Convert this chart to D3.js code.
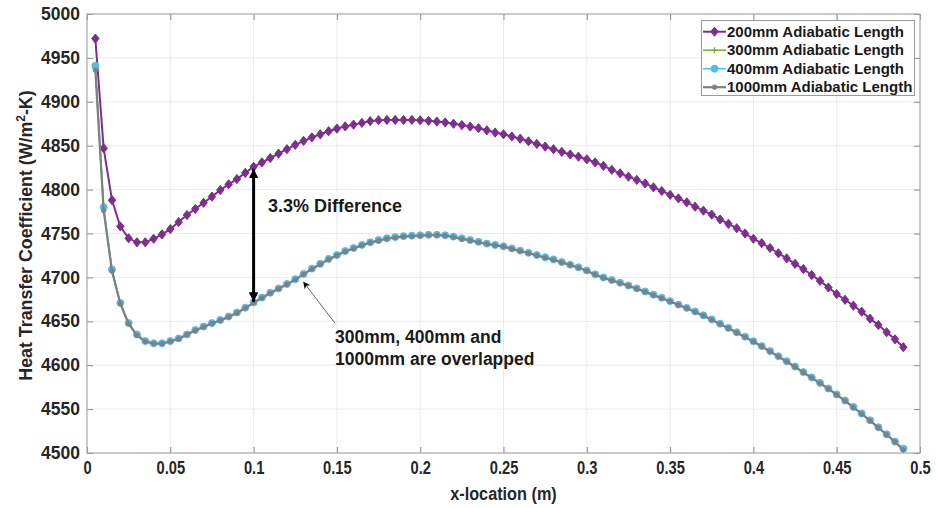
<!DOCTYPE html>
<html><head><meta charset="utf-8">
<script src="https://cdn.jsdelivr.net/npm/d3@7"></script>
<style>
body{margin:0;background:#fff;}
svg{display:block;font-family:"Liberation Sans",Arial,sans-serif;font-weight:bold;}
</style></head>
<body><svg id="chart" width="936" height="508"></svg>
<script>
const xLocation = [0.005,0.01,0.015,0.02,0.025,0.03,0.035,0.04,0.045,0.05,0.055,0.06,0.065,0.07,0.075,0.08,0.085,0.09,0.095,0.1,
0.105,0.11,0.115,0.12,0.125,0.13,0.135,0.14,0.145,0.15,0.155,0.16,0.165,0.17,0.175,0.18,0.185,0.19,0.195,0.2,
0.205,0.21,0.215,0.22,0.225,0.23,0.235,0.24,0.245,0.25,0.255,0.26,0.265,0.27,0.275,0.28,0.285,0.29,0.295,0.3,
0.305,0.31,0.315,0.32,0.325,0.33,0.335,0.34,0.345,0.35,0.355,0.36,0.365,0.37,0.375,0.38,0.385,0.39,0.395,0.4,
0.405,0.41,0.415,0.42,0.425,0.43,0.435,0.44,0.445,0.45,0.455,0.46,0.465,0.47,0.475,0.48,0.485,0.49];

const htc200 = [4972,4847,4788,4758,4744.5,4740,4740,4744,4749,4755,4763,4771,4778,4785,4792,4799.5,4806,4812,4819,4826,
4831,4836,4841,4846,4851,4855.5,4859.5,4863,4866.5,4869.5,4872,4874,4876,4878,4879,4879.3,4879.3,4879.3,4879.3,4879,
4878.3,4877.5,4876.5,4875,4873.5,4871.8,4870,4867.5,4865,4863,4860.5,4858,4855,4852,4849,4846,4843,4840,4837.5,4834.5,
4831,4827,4822.5,4818.5,4814.7,4811,4807,4802.6,4798.4,4794,4790,4785.5,4780.5,4776,4771.5,4766,4761,4756,4750,4744,
4739,4733.5,4727.5,4721.7,4715.5,4709.5,4702.7,4696,4688.5,4681,4674.5,4667.8,4661,4653,4645.8,4637.5,4629.5,4620.5];

const htc300 = [4938,4778,4708,4670.5,4647.5,4634.5,4627,4624.8,4624.8,4627.2,4630.2,4635,4639.8,4643.8,4647.8,4651.2,4655.2,4659.8,4665.2,4671.2,
4676.8,4682.2,4687.2,4692.2,4697.8,4703.8,4709.8,4715.2,4720.8,4725.2,4729.8,4733.2,4736.8,4739.8,4742.1,4744.2,4745.6,4746.7,4747.2,4747.7,
4748.2,4748.2,4747.7,4746.1,4744.1,4742.2,4740.2,4738.2,4736.7,4735.2,4732.7,4730.2,4727.7,4725.2,4722.7,4720.2,4717.2,4714.4,4711.2,4707.7,
4703.2,4699.7,4696.7,4693.7,4690.5,4687.2,4683.7,4680,4676.5,4672.7,4668.8,4665,4660.9,4656.5,4651.9,4647,4642.2,4637.2,4632.2,4627,
4621.5,4615.8,4610,4604.2,4598.2,4591.9,4585.8,4579.6,4573.2,4566.4,4559.5,4552.2,4544.7,4537,4529,4521,4512.7,4504];

const htc400 = [4941,4780,4709,4671,4648,4635,4627.5,4625,4625,4627.5,4630.5,4635,4640,4644,4648,4651.5,4655.5,4660,4665.5,4671.5,
4677,4682.5,4687.5,4692.5,4698,4704,4710,4715.5,4721,4725.5,4730,4733.5,4737,4740,4742.5,4744.5,4746,4747,4747.5,4748,
4748.5,4748.5,4748,4746.5,4744.5,4742.5,4740.5,4738.5,4737,4735.5,4733,4730.5,4728,4725.5,4723,4720.5,4717.5,4714.5,4711.5,4708,
4703.5,4700,4697,4694,4690.8,4687.5,4684,4680.3,4676.8,4673,4669,4665.3,4661.2,4656.8,4652.2,4647.3,4642.5,4637.5,4632.5,4627.3,
4621.8,4616.1,4610.3,4604.5,4598.5,4592.2,4586.1,4579.9,4573.5,4566.7,4559.8,4552.5,4545,4537.3,4529.3,4521.3,4513,4505];

const htc1000 = [4936,4776,4707,4670,4647,4634,4627,4624.5,4624.5,4627,4630,4635,4639.5,4643.5,4647.5,4651,4655,4659.5,4665,4671,
4676.5,4682,4687,4692,4697.5,4703.5,4709.5,4715,4720.5,4725,4729.5,4733,4736.5,4739.5,4741.8,4744,4745.3,4746.4,4747,4747.5,
4748,4748,4747.5,4745.8,4743.8,4742,4740,4738,4736.5,4735,4732.5,4730,4727.5,4725,4722.4,4720,4717,4714.2,4711,4707.5,
4703,4699.5,4696.5,4693.5,4690.3,4687,4683.5,4679.8,4676.3,4672.5,4668.6,4664.8,4660.7,4656.3,4651.7,4646.8,4642,4637,4632,4626.8,
4621.3,4615.6,4609.8,4604,4598,4591.7,4585.6,4579.4,4573,4566.2,4559.3,4552,4544.5,4536.8,4528.8,4520.8,4512.5,4503.5];

const seriesNames = ["200mm Adiabatic Length","300mm Adiabatic Length","400mm Adiabatic Length","1000mm Adiabatic Length"];
const xTicks = [0,0.05,0.1,0.15,0.2,0.25,0.3,0.35,0.4,0.45,0.5];
const xTickLabels = ["0","0.05","0.1","0.15","0.2","0.25","0.3","0.35","0.4","0.45","0.5"];
const yTicks = [4500,4550,4600,4650,4700,4750,4800,4850,4900,4950,5000];
const xTitle = "x-location (m)";
const diffLabel = "3.3% Difference";
const noteLines = ["300mm, 400mm and","1000mm are overlapped"];
const diffAt = 0.1;

const svg = d3.select("#chart");
const L = 87, R = 920, T = 14, B = 453;
const x = d3.scaleLinear().domain([0,0.5]).range([L,R]);
const y = d3.scaleLinear().domain([4500,5000]).range([B,T]);

// grid
const g = svg.append("g");
g.selectAll(".vg").data(xTicks.slice(1,-1)).enter().append("line")
  .attr("x1",d=>x(d)).attr("x2",d=>x(d)).attr("y1",T).attr("y2",B)
  .attr("stroke","#ebebeb").attr("stroke-width",1);
g.selectAll(".hg").data(yTicks.slice(1,-1)).enter().append("line")
  .attr("y1",d=>y(d)).attr("y2",d=>y(d)).attr("x1",L).attr("x2",R)
  .attr("stroke","#ebebeb").attr("stroke-width",1);

// axes with inner ticks
const tickCol = "#8c8c8c";
const xAxisB = svg.append("g").attr("transform",`translate(0,${B})`)
  .call(d3.axisBottom(x).tickValues(xTicks).tickSize(-6).tickPadding(9).tickFormat((d,i)=>xTickLabels[i]));
const xAxisT = svg.append("g").attr("transform",`translate(0,${T})`)
  .call(d3.axisTop(x).tickValues(xTicks).tickSize(-6).tickFormat(""));
const yAxisL = svg.append("g").attr("transform",`translate(${L},0)`)
  .call(d3.axisLeft(y).tickValues(yTicks).tickSize(-6).tickPadding(7).tickFormat(d3.format("d")));
const yAxisR = svg.append("g").attr("transform",`translate(${R},0)`)
  .call(d3.axisRight(y).tickValues(yTicks).tickSize(-6).tickFormat(""));
[xAxisB,xAxisT,yAxisL,yAxisR].forEach(a=>{
  a.select(".domain").remove();
  a.selectAll(".tick line").attr("stroke",tickCol);
});
xAxisB.selectAll(".tick text").attr("font-size",17.5).attr("font-weight","bold")
  .attr("fill","#262626").attr("font-family","Liberation Sans, Arial, sans-serif")
  .attr("transform","scale(0.84,1)").attr("x",0);
yAxisL.selectAll(".tick text").attr("font-size",17.5).attr("font-weight","bold")
  .attr("fill","#262626").attr("font-family","Liberation Sans, Arial, sans-serif");

svg.append("rect").attr("x",L).attr("y",T).attr("width",R-L).attr("height",B-T)
  .attr("fill","none").attr("stroke","#a6a6a6").attr("stroke-width",1.2);

// series
const mk = (vals) => xLocation.map((d,i)=>({x:d,y:vals[i]}));
const line = d3.line().x(d=>x(d.x)).y(d=>y(d.y));
const plot = svg.append("g");

const cfg = [
  {vals:htc200, color:"#7E2F8E", lw:2, marker:"diamond"},
  {vals:htc300, color:"#77AC30", lw:1.5, marker:"plus"},
  {vals:htc400, color:"#4DBEEE", lw:1.5, marker:"circle"},
  {vals:htc1000, color:"#808080", lw:2.2, marker:"dot"}
];
const markerPath = {
  diamond: "M0,-4.6L3.7,0L0,4.6L-3.7,0Z",
  plus: "M-3,0H3M0,-3V3",
  circle: d3.symbol().type(d3.symbolCircle).size(38)(),
  dot: d3.symbol().type(d3.symbolCircle).size(15)()
};
function drawMarker(sel, c){
  sel.append("path").attr("d",markerPath[c.marker])
    .attr("fill", c.marker==="plus" ? "none" : c.color)
    .attr("stroke", c.color).attr("stroke-width", c.marker==="plus"?1.2:1);
}
cfg.forEach(c=>{
  const data = mk(c.vals);
  plot.append("path").datum(data).attr("d",line).attr("fill","none")
    .attr("stroke",c.color).attr("stroke-width",c.lw);
  const m = plot.append("g");
  data.forEach(d=>{
    const gg = m.append("g").attr("transform",`translate(${x(d.x)},${y(d.y)})`);
    drawMarker(gg,c);
  });
});

// titles
svg.append("text").attr("x",(L+R)/2).attr("y",500).attr("text-anchor","middle")
  .attr("font-size",17.5).attr("fill","#262626")
  .attr("transform",`translate(${(L+R)/2*(1-0.93)},0) scale(0.93,1)`)
  .text(xTitle);
const yt = svg.append("text").attr("transform",`translate(32,${(T+B)/2+2}) rotate(-90)`)
  .attr("text-anchor","middle").attr("font-size",17.8).attr("fill","#262626");
yt.append("tspan").text("Heat Transfer Coefficient (W/m");
yt.append("tspan").attr("font-size",12).attr("dy",-7).text("2");
yt.append("tspan").attr("dy",7).text("-K)");

// double arrow
const defs = svg.append("defs");
defs.append("marker").attr("id","ah").attr("viewBox","0 0 10 10").attr("refX",10).attr("refY",5)
  .attr("markerWidth",3.2).attr("markerHeight",3.2).attr("markerUnits","strokeWidth").attr("orient","auto-start-reverse")
  .append("path").attr("d","M0,0L10,5L0,10Z").attr("fill","#000");
defs.append("marker").attr("id","ah2").attr("viewBox","0 0 10 10").attr("refX",10).attr("refY",5)
  .attr("markerWidth",7).attr("markerHeight",7).attr("markerUnits","strokeWidth").attr("orient","auto")
  .append("path").attr("d","M0,0L10,5L0,10L3,5Z").attr("fill","#000");

const i100 = xLocation.indexOf(diffAt);
svg.append("line").attr("x1",x(diffAt)).attr("x2",x(diffAt))
  .attr("y1",y(htc200[i100])+2).attr("y2",y(htc1000[i100])-1)
  .attr("stroke","#000").attr("stroke-width",3)
  .attr("marker-start","url(#ah)").attr("marker-end","url(#ah)");

svg.append("text").attr("x",268).attr("y",212).attr("font-size",18).attr("fill","#1a1a1a").text(diffLabel);

// thin annotation arrow
svg.append("line").attr("x1",x(0.1489)).attr("y1",y(4647.7)).attr("x2",x(0.1298)).attr("y2",y(4695))
  .attr("stroke","#666").attr("stroke-width",1).attr("marker-end","url(#ah2)");

noteLines.forEach((t,i)=>{
  svg.append("text").attr("x",335).attr("y",343+i*21.6).attr("font-size",17.5).attr("fill","#1a1a1a").text(t);
});

// legend
const lg = svg.append("g");
lg.append("rect").attr("x",701.5).attr("y",20.5).attr("width",213).attr("height",75)
  .attr("fill","#fff").attr("stroke","#9a9a9a").attr("stroke-width",1);
cfg.forEach((c,i)=>{
  const yy = 31.7 + i*18.5;
  lg.append("line").attr("x1",703).attr("x2",726).attr("y1",yy).attr("y2",yy)
    .attr("stroke",c.color).attr("stroke-width",c.lw);
  const gg = lg.append("g").attr("transform",`translate(714.5,${yy})`);
  drawMarker(gg,c);
  lg.append("text").attr("x",727).attr("y",yy+5.2).attr("font-size",15).attr("fill","#1a1a1a").text(seriesNames[i]);
});
</script></body></html>
